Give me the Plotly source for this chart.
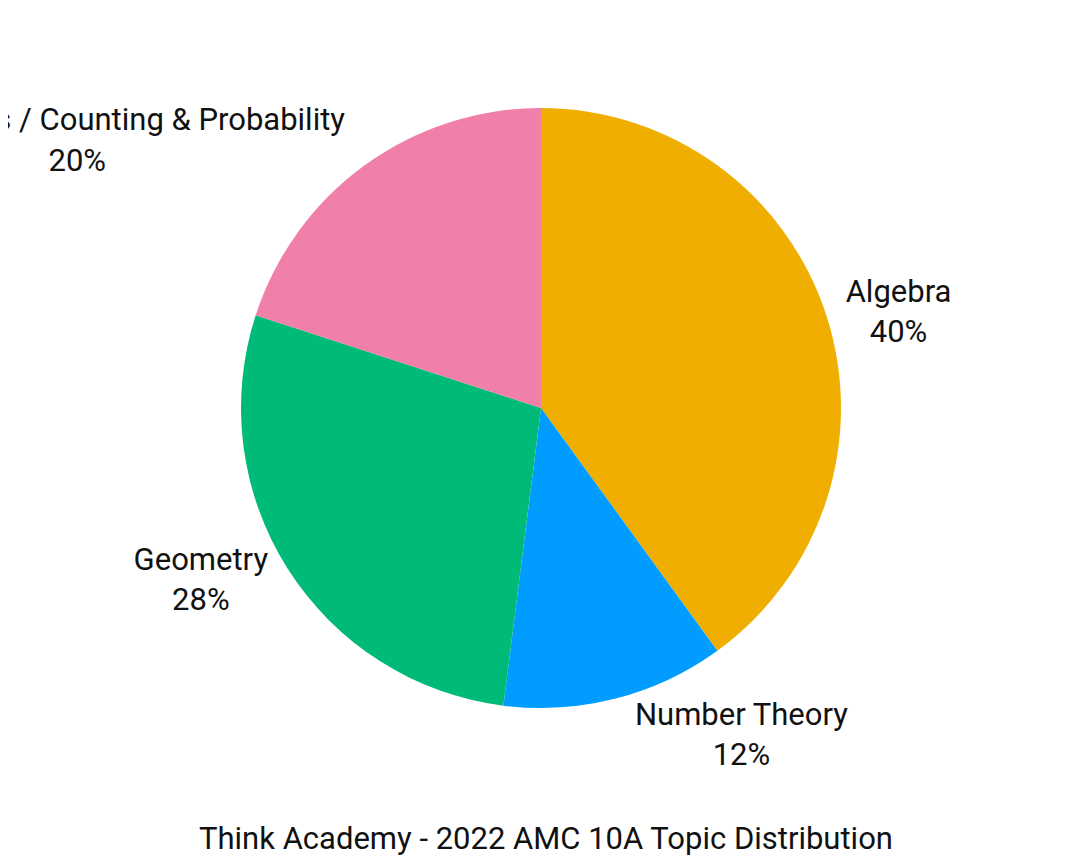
import plotly.graph_objects as go

labels = ["Algebra", "Number Theory", "Geometry", "Combinatorics / Counting & Probability"]
values = [40, 12, 28, 20]
colors = ["#F0AE00", "#009CFF", "#00BA78", "#F07FA9"]
title = "Think Academy - 2022 AMC 10A Topic Distribution"

W, H = 1076, 860
fig = go.Figure(go.Pie(
    labels=labels, values=values, sort=False, direction="clockwise", rotation=0,
    marker=dict(colors=colors), textposition="outside",
    texttemplate="%{label}<br>%{percent:.0%}", textfont=dict(size=31, color="#111"),
    showlegend=False, hoverinfo="label+percent",
    domain=dict(x=[233 / W, 833 / W], y=[(H - 700) / H, (H - 100) / H]),
))
fig.update_layout(
    width=W, height=H, paper_bgcolor="white",
    font=dict(family="Roboto", size=31, color="#111"),
    margin=dict(l=0, r=0, t=0, b=0, autoexpand=False),
    annotations=[dict(text=title, x=0.5, y=(H - 830) / H, xref="paper", yref="paper",
                      yanchor="middle", showarrow=False, font=dict(size=31))],
)
fig.write_html("out.html")
